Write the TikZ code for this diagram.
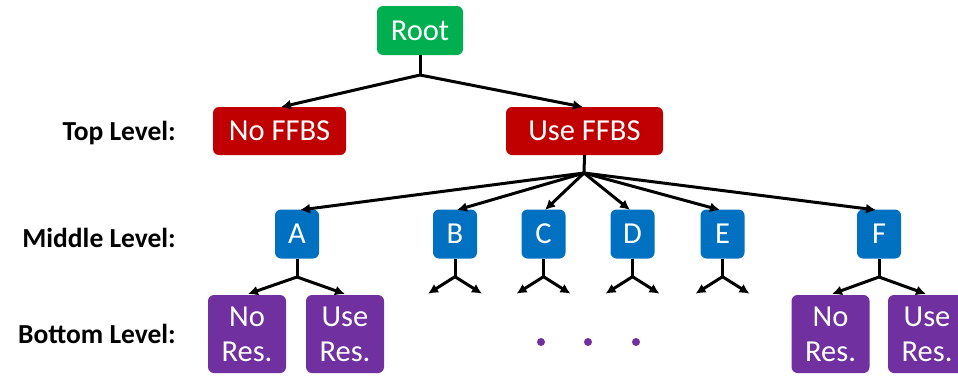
\documentclass[tikz,border=0pt]{standalone}
\usepackage{fontspec}
\setmainfont{Carlito}
\usetikzlibrary{arrows.meta}
\definecolor{cgreen}{HTML}{00B050}
\definecolor{cred}{HTML}{C00000}
\definecolor{cblue}{HTML}{0070C0}
\definecolor{cpurple}{HTML}{7030A0}
\begin{document}
\begin{tikzpicture}[x=1pt,y=-1pt,
  box/.style={rectangle,rounded corners=6pt,text=white,inner sep=0pt,align=center,
    font=\fontsize{30.5}{35}\selectfont},
  rootbox/.style={box,fill=cgreen,minimum width=86pt,minimum height=49pt},
  topbox/.style={box,fill=cred,minimum height=48pt},
  midbox/.style={box,fill=cblue,minimum width=44pt,minimum height=49pt},
  botbox/.style={box,fill=cpurple,minimum width=78pt,minimum height=78pt},
  lvl/.style={anchor=east,font=\bfseries\fontsize{27.5}{30}\selectfont,inner sep=0pt},
  conn/.style={line width=3pt,black},
  arr/.style={conn,-{Latex[length=10pt,width=10pt]}},
  dot/.style={circle,fill=cpurple,inner sep=0pt,minimum size=8pt}]
\useasboundingbox (0,0) rectangle (958,378);
\clip (0,0) rectangle (958,378);

% level labels
\node[lvl] (lt) at (176,133) {Top Level:};
\node[lvl] (lm) at (176,238) {Middle Level:};
\node[lvl] (lb) at (176,334) {Bottom Level:};

% nodes
\node[rootbox] (root) at (420,30.5) {Root};
\node[topbox,minimum width=133pt] (noffbs) at (279.5,131) {No FFBS};
\node[topbox,minimum width=157pt] (useffbs) at (584.5,131) {Use FFBS};

\node[midbox] (A) at (297,234) {A};
\node[midbox] (B) at (455,234) {B};
\node[midbox] (C) at (543.5,234) {C};
\node[midbox] (D) at (632.5,234) {D};
\node[midbox] (E) at (722.5,234) {E};
\node[midbox] (F) at (879,234) {F};

\node[botbox] (nrA) at (247,334) {No\\Res.};
\node[botbox] (urA) at (345,334) {Use\\Res.};
\node[botbox] (nrF) at (830.5,334) {No\\Res.};
\node[botbox] (urF) at (927,334) {Use\\Res.};

\node[dot] (d1) at (541,342) {};
\node[dot] (d2) at (588,342) {};
\node[dot] (d3) at (636,342) {};

% root -> top level
\coordinate (jr) at (420,75);
\draw[conn] (root.south) -- (jr);
\draw[arr] (jr) -- (281,107);
\draw[arr] (jr) -- (583,107);

% use ffbs -> middle
\coordinate (ju) at (584,173);
\draw[conn] (useffbs.south) -- (ju);
\foreach \n/\tx in {A/300,B/457,C/545,D/630,E/720,F/876}{
  \draw[arr] (ju) -- (\tx,210);
}

% A children
\coordinate (jA) at (297,277);
\draw[conn] (A.south) -- (jA);
\draw[arr] (jA) -- (248,294);
\draw[arr] (jA) -- (345,294);

% F children
\coordinate (jF) at (879,277);
\draw[conn] (F.south) -- (jF);
\draw[arr] (jF) -- (832,294);
\draw[arr] (jF) -- (926,294);

% B..E stubs
\foreach \n in {B,C,D,E}{
  \coordinate (j\n) at ([yshift=-18pt]\n.south);
  \draw[conn] (\n.south) -- (j\n);
  \draw[arr] (j\n) -- ++(-27,17);
  \draw[arr] (j\n) -- ++(27,17);
}
\end{tikzpicture}
\end{document}
